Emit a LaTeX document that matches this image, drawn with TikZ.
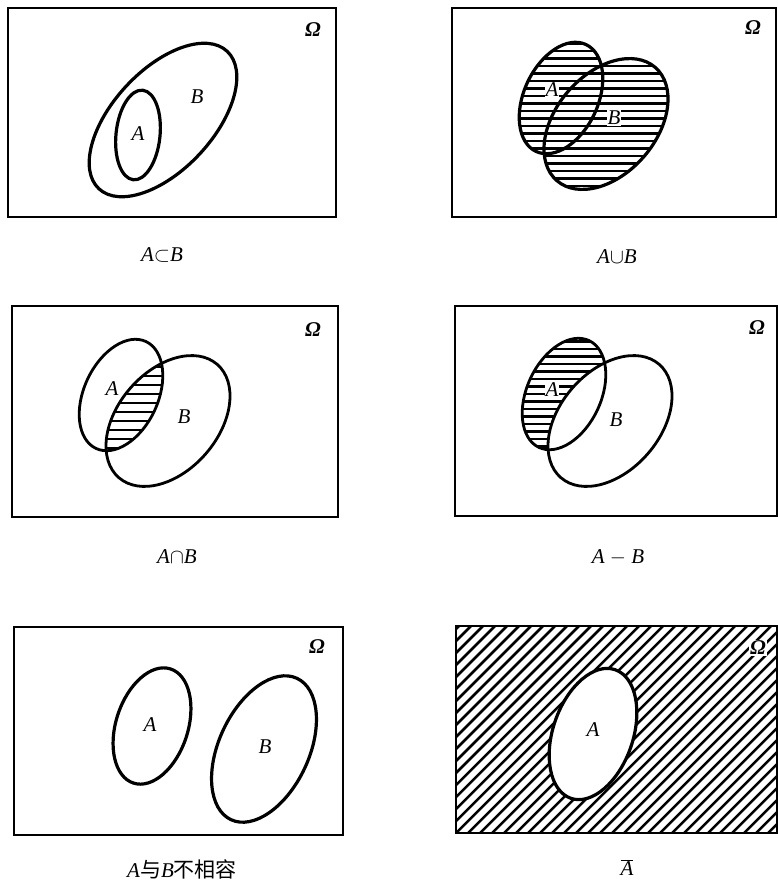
\documentclass[tikz,border=0pt]{standalone}
\usepackage{fontspec}
\setmainfont{Liberation Serif}
\newfontfamily\cjk{Noto Sans CJK SC}
\begin{document}
\begin{tikzpicture}[x=1pt,y=-1pt,
  frame/.style={line width=2.6pt},
  setline/.style={line width=3.2pt},
  hatch/.style={line width=2.6pt},
  lbl/.style={font=\fontsize{21}{24}\selectfont\itshape, inner sep=1pt},
  omega/.style={font=\fontsize{21}{24}\selectfont\bfseries\itshape, inner sep=1pt},
  captxt/.style={font=\fontsize{21}{24}\selectfont, inner sep=1pt}]
\useasboundingbox (0,0) rectangle (777,882);

% ---------- Panel 1: A subset B ----------
\draw[frame] (8,8) rectangle (336,217);
\draw[setline, rotate around={47:(163,120)}] (163,120) ellipse [x radius=94pt, y radius=50pt];
\draw[setline, rotate around={84:(138,135)}] (138,135) ellipse [x radius=45pt, y radius=22pt];
\node[lbl] (p1a) at (138,134) {A};
\node[lbl] (p1b) at (197,97) {B};
\node[omega] (p1o) at (313,30) {Ω};
\node[captxt] (p1c) at (162,255) {\textit{A}$\subset$\textit{B}};

% ---------- Panel 2: A cup B ----------
\draw[frame] (452,8) rectangle (776,217);
\begin{scope}
  \clip[rotate around={65:(561,98)}] (561,98) ellipse [x radius=59pt, y radius=37pt];
  \foreach \y in {36,43.5,...,200} \draw[hatch] (500,\y) -- (690,\y);
\end{scope}
\begin{scope}
  \clip[rotate around={49:(606,124)}] (606,124) ellipse [x radius=75pt, y radius=50pt];
  \foreach \y in {36,43.5,...,200} \draw[hatch] (500,\y) -- (690,\y);
\end{scope}
\draw[setline, rotate around={65:(561,98)}] (561,98) ellipse [x radius=59pt, y radius=37pt];
\draw[setline, rotate around={49:(606,124)}] (606,124) ellipse [x radius=75pt, y radius=50pt];
\node[lbl, fill=white] (p2a) at (552,90) {A};
\node[lbl, fill=white] (p2b) at (614,118) {B};
\node[omega] (p2o) at (753,28) {Ω};
\node[captxt] (p2c) at (617,257) {\textit{A}$\cup$\textit{B}};

% ---------- Panel 3: A cap B ----------
\draw[frame] (12,306) rectangle (338,517);
\begin{scope}
  \clip[rotate around={65:(121,395)}] (121,395) ellipse [x radius=59pt, y radius=37pt];
  \clip[rotate around={49:(168,421)}] (168,421) ellipse [x radius=75pt, y radius=50pt];
  \foreach \y in {367,376,...,460} \draw[hatch] (60,\y) -- (250,\y);
\end{scope}
\draw[setline, line width=2.8pt, rotate around={65:(121,395)}] (121,395) ellipse [x radius=59pt, y radius=37pt];
\draw[setline, line width=2.8pt, rotate around={49:(168,421)}] (168,421) ellipse [x radius=75pt, y radius=50pt];
\node[lbl] (p3a) at (112,389) {A};
\node[lbl] (p3b) at (184,417) {B};
\node[omega] (p3o) at (313,330) {Ω};
\node[captxt] (p3c) at (177,557) {\textit{A}$\cap$\textit{B}};

% ---------- Panel 4: A - B ----------
\draw[frame] (455,306) rectangle (777,516);
\begin{scope}
  \clip[rotate around={65:(564,394)}] (564,394) ellipse [x radius=59pt, y radius=37pt];
  \foreach \y in {334,341.5,...,460} \draw[hatch] (500,\y) -- (690,\y);
  \fill[white, rotate around={49:(610,421)}] (610,421) ellipse [x radius=75pt, y radius=50pt];
\end{scope}
\draw[setline, line width=2.8pt, rotate around={65:(564,394)}] (564,394) ellipse [x radius=59pt, y radius=37pt];
\draw[setline, line width=2.8pt, rotate around={49:(610,421)}] (610,421) ellipse [x radius=75pt, y radius=50pt];
\node[lbl, fill=white] (p4a) at (552,390) {A};
\node[lbl] (p4b) at (616,420) {B};
\node[omega] (p4o) at (757,328) {Ω};
\node[captxt] (p4c) at (618,557) {\textit{A} $-$ \textit{B}};

% ---------- Panel 5: disjoint ----------
\draw[frame] (14,627) rectangle (343,835);
\draw[setline, rotate around={72:(152,726)}] (152,726) ellipse [x radius=60pt, y radius=36pt];
\draw[setline, rotate around={65:(264,749)}] (264,749) ellipse [x radius=78pt, y radius=45pt];
\node[lbl] (p5a) at (150,725) {A};
\node[lbl] (p5b) at (265,747) {B};
\node[omega] (p5o) at (317,647) {Ω};
\node[captxt] (p5c) at (182,869) {\textit{A}{\cjk 与}\textit{B}{\cjk 不相容}};

% ---------- Panel 6: complement ----------
\begin{scope}
  \clip (456,626) rectangle (777,833);
  \foreach \x in {240,252,...,800} \draw[line width=2.5pt] (\x,845) -- (\x+230,615);
\end{scope}
\fill[white, rotate around={71:(593,734)}] (593,734) ellipse [x radius=68pt, y radius=40pt];
\draw[setline, rotate around={71:(593,734)}] (593,734) ellipse [x radius=68pt, y radius=40pt];
\draw[frame] (456,626) rectangle (777,833);
\node[lbl] (p6a) at (593,730) {A};
\node[omega, fill=white] (p6o) at (758,648) {Ω};
\node[captxt] (p6c) at (627,868) {$\overline{\mbox{\textit{A}}}$};
\end{tikzpicture}
\end{document}
